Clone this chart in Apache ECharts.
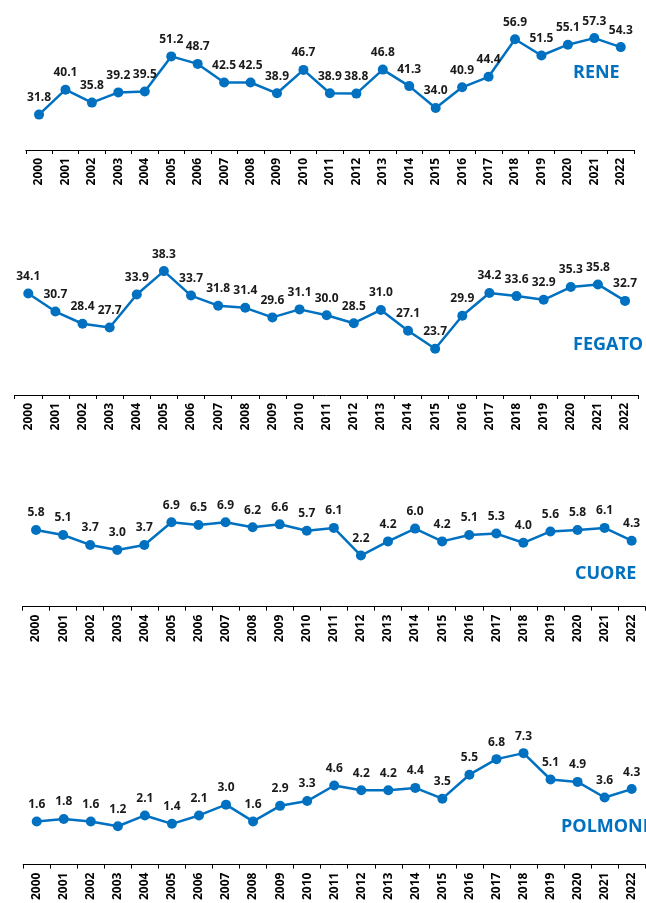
<!DOCTYPE html>
<html>
<head>
<meta charset="utf-8">
<script src="https://cdn.jsdelivr.net/npm/echarts@6/dist/echarts.min.js"></script>
<style>
html,body{margin:0;padding:0;background:#fff;}
#chart{width:646px;height:903px;}
</style>
</head>
<body>
<div id="chart"></div>
<script>
var years = ['2000','2001','2002','2003','2004','2005','2006','2007','2008','2009','2010','2011','2012','2013','2014','2015','2016','2017','2018','2019','2020','2021','2022'];
var rene = [31.8,40.1,35.8,39.2,39.5,51.2,48.7,42.5,42.5,38.9,46.7,38.9,38.8,46.8,41.3,34.0,40.9,44.4,56.9,51.5,55.1,57.3,54.3];
var fegato = [34.1,30.7,28.4,27.7,33.9,38.3,33.7,31.8,31.4,29.6,31.1,30.0,28.5,31.0,27.1,23.7,29.9,34.2,33.6,32.9,35.3,35.8,32.7];
var cuore = [5.8,5.1,3.7,3.0,3.7,6.9,6.5,6.9,6.2,6.6,5.7,6.1,2.2,4.2,6.0,4.2,5.1,5.3,4.0,5.6,5.8,6.1,4.3];
var polmoni = [1.6,1.8,1.6,1.2,2.1,1.4,2.1,3.0,1.6,2.9,3.3,4.6,4.2,4.2,4.4,3.5,5.5,6.8,7.3,5.1,4.9,3.6,4.3];
var titles = ['RENE','FEGATO','CUORE','POLMONI'];

var panels = [
  {data: rene,    min: 20, max: 70, grid: {left: 25.8, right: 12,  top: 0,     height: 150},   title: {left: 573, top: 64}},
  {data: fegato,  min: 15, max: 45, grid: {left: 14.7, right: 7.4, top: 235.5, height: 159.5}, title: {left: 573, top: 336}},
  {data: cuore,   min: -5, max: 10, grid: {left: 22.5, right: 0.8, top: 500.2, height: 106.5}, title: {left: 575, top: 565}},
  {data: polmoni, min: -2, max: 10, grid: {left: 23.2, right: 0.8, top: 720.8, height: 144.2}, title: {left: 561, top: 818}}
];

var FONT = '"Open Sans", "Noto Sans", sans-serif';
var BLUE = '#0070C0';

var option = {
  animation: false,
  backgroundColor: '#fff',
  title: [], grid: [], xAxis: [], yAxis: [], series: []
};

panels.forEach(function (p, i) {
  option.title.push({
    text: titles[i], left: p.title.left, top: p.title.top, padding: 0,
    textStyle: {color: BLUE, fontFamily: FONT, fontWeight: 'bold', fontSize: 18}
  });
  option.grid.push(Object.assign({containLabel: false}, p.grid));
  option.xAxis.push({
    type: 'category', gridIndex: i, data: years, boundaryGap: true,
    axisLine: {show: true, onZero: false, lineStyle: {color: '#000', width: 1}},
    axisTick: {show: true, length: 4, alignWithLabel: false, lineStyle: {color: '#000'}},
    axisLabel: {rotate: 90, margin: 8, color: '#000', fontFamily: FONT, fontWeight: 'bold', fontSize: 12, interval: 0},
    splitLine: {show: false}
  });
  option.yAxis.push({
    type: 'value', gridIndex: i, min: p.min, max: p.max, show: false, splitLine: {show: false}
  });
  option.series.push({
    type: 'line', xAxisIndex: i, yAxisIndex: i, data: p.data,
    symbol: 'circle', symbolSize: 10,
    lineStyle: {color: BLUE, width: 2.5},
    itemStyle: {color: BLUE},
    label: {
      show: true, position: 'top', distance: 6,
      color: '#1a1a1a', fontFamily: FONT, fontWeight: 'bold', fontSize: 12,
      formatter: function (d) { return d.value.toFixed(1); }
    }
  });
});

var chart = echarts.init(document.getElementById('chart'), null, {renderer: 'canvas'});
chart.setOption(option);
</script>
</body>
</html>
